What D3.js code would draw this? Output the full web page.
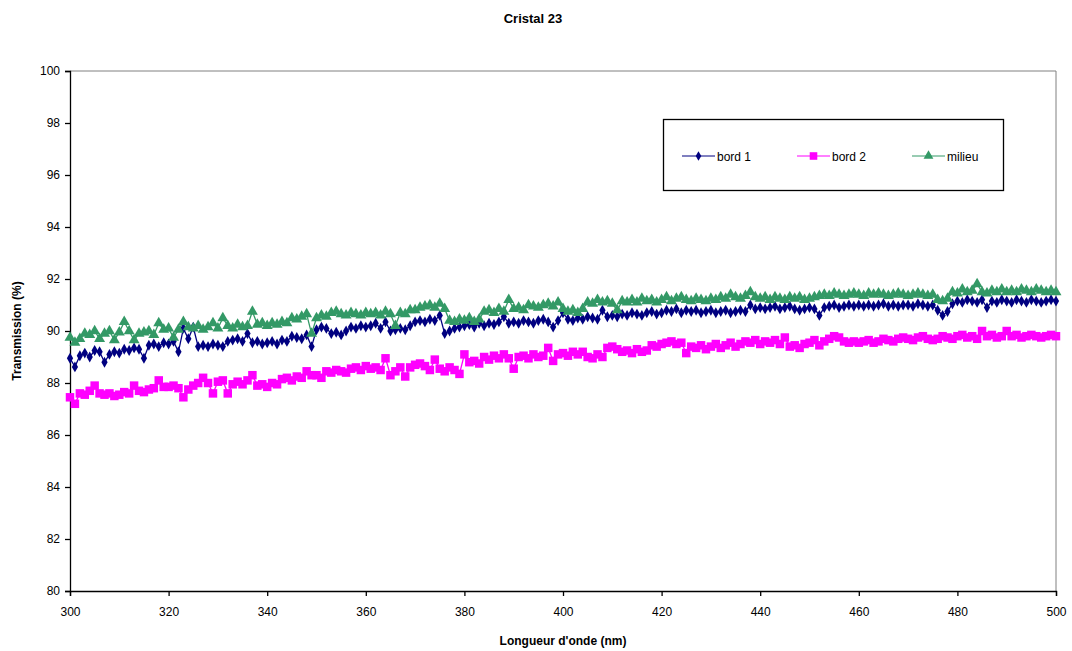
<!DOCTYPE html>
<html><head><meta charset="utf-8">
<script src="https://cdn.jsdelivr.net/npm/d3@7"></script>
<style>body{margin:0;background:#fff;}svg{display:block;font-family:"Liberation Sans",Arial,sans-serif;}</style>
</head><body><svg id="c" width="1072" height="651"></svg>
<script>
const wavelengthStart = 300;
const xTicks = [300,320,340,360,380,400,420,440,460,480,500];
const yTicks = [80,82,84,86,88,90,92,94,96,98,100];
const seriesNames = ["bord 1","bord 2","milieu"];

const bord1 = [
88.95,88.62,89.05,89.15,89.0,89.25,89.2,88.8,89.1,89.2,
89.15,89.3,89.25,89.35,89.3,88.95,89.45,89.5,89.4,89.55,
89.5,89.6,89.2,90.1,89.7,90.15,89.4,89.45,89.4,89.5,
89.45,89.4,89.6,89.65,89.7,89.6,89.9,89.55,89.6,89.5,
89.55,89.6,89.5,89.65,89.6,89.8,89.75,89.7,89.85,89.4,
90.05,90.15,90.1,89.9,89.95,89.85,90.0,90.15,90.1,90.2,
90.15,90.2,90.3,90.1,90.35,90.0,90.05,90.1,90.05,90.2,
90.35,90.4,90.35,90.45,90.4,90.6,89.9,90.0,90.1,90.15,
90.2,90.25,90.15,90.3,90.2,90.3,90.25,90.35,90.55,90.3,
90.35,90.3,90.4,90.35,90.3,90.4,90.45,90.35,90.15,90.4,
90.7,90.45,90.4,90.5,90.45,90.55,90.5,90.45,90.8,90.55,
90.6,90.55,90.65,90.6,90.7,90.65,90.6,90.7,90.75,90.65,
90.7,90.8,90.75,90.85,90.7,90.8,90.75,90.8,90.7,90.75,
90.8,90.7,90.75,90.8,90.7,90.75,90.8,90.75,91.0,90.85,
90.9,90.85,90.9,90.95,90.85,90.9,90.95,90.85,90.8,90.85,
90.9,90.85,90.6,90.9,90.95,91.0,90.9,90.95,91.0,90.95,
91.0,90.95,91.0,90.95,91.0,91.05,90.95,91.0,90.95,91.0,
91.0,90.95,91.05,91.0,90.95,91.0,90.8,90.6,90.75,91.05,
91.15,91.1,91.2,91.15,91.1,91.2,90.9,91.15,91.1,91.2,
91.15,91.1,91.2,91.15,91.1,91.2,91.15,91.1,91.15,91.2,91.15];

const bord2 = [
87.45,87.2,87.6,87.55,87.7,87.9,87.6,87.55,87.6,87.5,
87.55,87.65,87.6,87.9,87.7,87.65,87.75,87.8,88.1,87.85,
87.85,87.9,87.8,87.45,87.75,87.9,88.0,88.2,88.0,87.6,
88.05,88.1,87.6,87.95,88.05,87.95,88.1,88.3,87.9,87.95,
87.85,88.0,87.95,88.15,88.2,88.1,88.25,88.2,88.45,88.3,
88.3,88.2,88.45,88.4,88.5,88.45,88.4,88.55,88.6,88.5,
88.65,88.55,88.6,88.5,88.95,88.3,88.45,88.6,88.25,88.6,
88.7,88.75,88.65,88.5,88.9,88.55,88.45,88.6,88.5,88.35,
89.1,88.8,88.85,88.75,89.0,88.9,89.05,88.95,89.1,88.95,
88.55,89.0,89.05,88.95,89.1,89.0,89.05,89.35,88.85,89.1,
89.15,89.05,89.2,89.1,89.2,89.0,88.95,89.1,89.0,89.35,
89.4,89.3,89.2,89.25,89.15,89.3,89.2,89.25,89.45,89.4,
89.5,89.55,89.6,89.5,89.55,89.15,89.4,89.35,89.45,89.3,
89.4,89.5,89.35,89.45,89.55,89.4,89.5,89.6,89.55,89.65,
89.5,89.6,89.55,89.65,89.5,89.75,89.4,89.45,89.35,89.5,
89.55,89.65,89.45,89.6,89.7,89.8,89.75,89.6,89.55,89.6,
89.55,89.6,89.65,89.55,89.6,89.7,89.65,89.6,89.7,89.75,
89.7,89.65,89.75,89.8,89.7,89.65,89.7,89.8,89.75,89.7,
89.8,89.85,89.75,89.8,89.7,90.0,89.8,89.85,89.75,89.8,
90.0,89.8,89.85,89.75,89.8,89.85,89.8,89.75,89.8,89.85,89.8];

const milieu = [
89.75,89.55,89.7,89.9,89.85,90.0,89.7,89.9,90.0,89.65,
89.95,90.35,90.0,89.65,89.9,89.95,90.0,89.85,90.3,90.05,
90.1,89.75,90.05,90.35,90.15,90.1,90.2,90.05,90.15,90.3,
90.1,90.5,90.2,90.1,90.25,90.15,90.2,90.75,90.25,90.3,
90.2,90.3,90.25,90.35,90.3,90.5,90.45,90.55,90.65,89.9,
90.5,90.6,90.55,90.7,90.75,90.65,90.6,90.7,90.65,90.6,
90.7,90.65,90.7,90.6,90.75,90.65,90.2,90.7,90.65,90.8,
90.8,90.9,90.95,91.0,90.9,91.05,90.85,90.4,90.35,90.45,
90.4,90.5,90.35,90.45,90.75,90.8,90.7,90.85,90.75,91.2,
90.85,90.9,90.8,91.0,90.95,90.9,91.0,91.05,90.95,91.1,
90.85,90.75,90.8,90.7,90.85,91.1,91.05,91.2,91.1,91.15,
91.05,90.8,91.15,91.1,91.2,91.1,91.25,91.15,91.2,91.1,
91.2,91.3,91.15,91.25,91.3,91.2,91.15,91.25,91.2,91.15,
91.25,91.2,91.3,91.25,91.4,91.3,91.25,91.35,91.5,91.3,
91.25,91.3,91.2,91.3,91.25,91.2,91.3,91.25,91.3,91.2,
91.25,91.3,91.35,91.4,91.35,91.45,91.4,91.35,91.4,91.45,
91.4,91.35,91.45,91.4,91.45,91.4,91.35,91.4,91.45,91.4,
91.35,91.4,91.45,91.4,91.35,91.4,91.2,91.15,91.25,91.5,
91.45,91.6,91.5,91.55,91.8,91.5,91.45,91.55,91.5,91.6,
91.5,91.55,91.5,91.6,91.55,91.5,91.6,91.55,91.5,91.55,91.5];

const colors = ["#000080","#FF00FF","#339966"];
const symbols = [d3.symbolDiamond, d3.symbolSquare, d3.symbolTriangle];
const symSizes = [34, 72, 52];

const svg = d3.select("#c");
const L = 70, R = 1056, T = 71, B = 591;
const x = d3.scaleLinear().domain([300,500]).range([L,R]);
const y = d3.scaleLinear().domain([80,100]).range([B,T]);

svg.append("path").attr("d",`M${L},${T}H${R}V${B}`).attr("fill","none").attr("stroke","#808080").attr("stroke-width",1);

const xAxis = svg.append("g").attr("transform",`translate(0,${B})`)
  .call(d3.axisBottom(x).tickValues(xTicks).tickSize(5).tickPadding(11).tickFormat(d3.format("d")));
const yAxis = svg.append("g").attr("transform",`translate(${L},0)`)
  .call(d3.axisLeft(y).tickValues(yTicks).tickSize(5).tickPadding(5).tickFormat(d3.format("d")));
[xAxis,yAxis].forEach(a=>{
  a.selectAll("path.domain").attr("stroke","#000").attr("stroke-width",1.3);
  a.selectAll(".tick line").attr("stroke","#000").attr("stroke-width",1.3);
  a.selectAll("text").attr("font-size",12).attr("fill","#000").attr("font-family","'Liberation Sans',Arial,sans-serif");
});

const allSeries = [bord1,bord2,milieu];
const line = d3.line().x((d,i)=>x(wavelengthStart+i)).y(d=>y(d));
allSeries.forEach((s,k)=>{
  const g = svg.append("g");
  g.append("path").datum(s).attr("d",line).attr("fill","none").attr("stroke",colors[k]).attr("stroke-width",1.3);
  g.selectAll("path.m").data(s).join("path").attr("class","m")
    .attr("d",d3.symbol().type(symbols[k]).size(symSizes[k]))
    .attr("transform",(d,i)=>`translate(${x(wavelengthStart+i)},${y(d)})`)
    .attr("fill",colors[k]);
});

svg.append("text").attr("x",533).attr("y",23).attr("text-anchor","middle")
  .attr("font-size",13).attr("font-weight","bold").text("Cristal 23");
svg.append("text").attr("x",(L+R)/2).attr("y",645).attr("text-anchor","middle")
  .attr("font-size",12).attr("font-weight","bold").text("Longueur d'onde (nm)");
svg.append("text").attr("transform",`translate(21,${(T+B)/2}) rotate(-90)`).attr("text-anchor","middle")
  .attr("font-size",12).attr("font-weight","bold").text("Transmission (%)");

const lg = svg.append("g");
lg.append("rect").attr("x",663.5).attr("y",119.5).attr("width",340).attr("height",71)
  .attr("fill","#fff").attr("stroke","#000").attr("stroke-width",1.3);
const lx = [682,797,912];
seriesNames.forEach((n,k)=>{
  lg.append("line").attr("x1",lx[k]).attr("x2",lx[k]+33).attr("y1",156).attr("y2",156)
    .attr("stroke",colors[k]).attr("stroke-width",1);
  lg.append("path").attr("d",d3.symbol().type(symbols[k]).size(symSizes[k]*0.8))
    .attr("transform",`translate(${lx[k]+16.5},156)`).attr("fill",colors[k]);
  lg.append("text").attr("x",lx[k]+35).attr("y",160.5).attr("font-size",12).text(n);
});
</script></body></html>
